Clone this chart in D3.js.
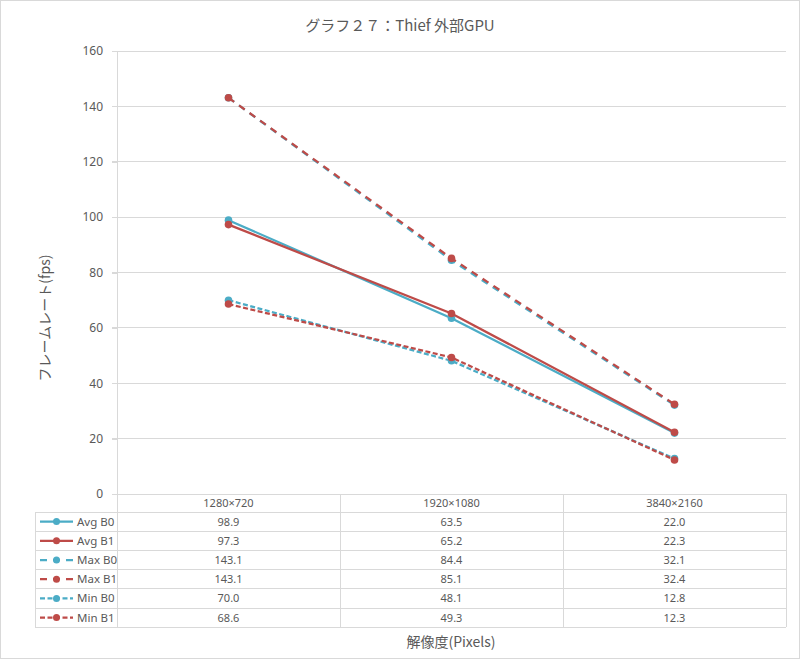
<!DOCTYPE html>
<html><head><meta charset="utf-8">
<script src="https://cdn.jsdelivr.net/npm/d3@7"></script>
<style>
html,body{margin:0;padding:0;background:#fff;}
svg text{font-family:"Noto Sans CJK JP","Noto Sans",sans-serif;fill:#595959;}
svg text.num{font-family:"Noto Sans","Open Sans",sans-serif;}
</style></head><body>
<svg id="c" width="800" height="659"></svg>
<script>
const categories = ["1280×720", "1920×1080", "3840×2160"];
const seriesNames = ["Avg B0", "Avg B1", "Max B0", "Max B1", "Min B0", "Min B1"];
const avgB0 = [98.9, 63.5, 22.0];
const avgB1 = [97.3, 65.2, 22.3];
const maxB0 = [143.1, 84.4, 32.1];
const maxB1 = [143.1, 85.1, 32.4];
const minB0 = [70.0, 48.1, 12.8];
const minB1 = [68.6, 49.3, 12.3];
const yTicks = [0, 20, 40, 60, 80, 100, 120, 140, 160];
const title = "グラフ２７：Thief 外部GPU";
const yTitle = "フレームレート(fps)";
const xTitle = "解像度(Pixels)";

const teal = "#4bacc6", red = "#be4b48";
const series = [
  {name: seriesNames[0], values: avgB0, color: teal, dash: null},
  {name: seriesNames[1], values: avgB1, color: red, dash: null},
  {name: seriesNames[2], values: maxB0, color: teal, dash: "7,6"},
  {name: seriesNames[3], values: maxB1, color: red, dash: "7,6"},
  {name: seriesNames[4], values: minB0, color: teal, dash: "5,2.5"},
  {name: seriesNames[5], values: minB1, color: red, dash: "5,2.5"}
];

const svg = d3.select("#c");
const W = 800, H = 659;
const L = 117, R = 786, T = 51, B = 494;
const rowH = 19.2, headerH = 18;
const legendL = 35;

svg.append("rect").attr("x", 0.5).attr("y", 0.5).attr("width", W - 1).attr("height", H - 1)
  .attr("fill", "#fff").attr("stroke", "#d9d9d9");

const x = d3.scaleBand().domain(categories).range([L, R]).padding(0);
const y = d3.scaleLinear().domain([0, 160]).range([B, T]);

// gridlines
svg.append("g").selectAll("line").data(yTicks.filter(d => d > 0)).join("line")
  .attr("x1", L - 5).attr("x2", R).attr("y1", d => y(d)).attr("y2", d => y(d))
  .attr("stroke", "#d9d9d9").attr("stroke-width", 1).attr("shape-rendering", "crispEdges");

// y axis
const yAxis = d3.axisLeft(y).tickValues(yTicks).tickSize(5).tickPadding(9);
const ga = svg.append("g").attr("transform", `translate(${L},0)`).call(yAxis);
ga.select(".domain").attr("stroke", "#d9d9d9").attr("shape-rendering", "crispEdges");
ga.selectAll(".tick line").attr("stroke", "#d9d9d9").attr("shape-rendering", "crispEdges");
ga.selectAll(".tick text").attr("class", "num").attr("font-size", 12).style("fill", "#595959")
  .attr("font-family", null);

// data table
const tbl = svg.append("g").attr("shape-rendering", "crispEdges");
const tableBottom = B + headerH + rowH * series.length;
tbl.append("line").attr("x1", L).attr("x2", R).attr("y1", B).attr("y2", B).attr("stroke", "#d9d9d9");
for (let i = 0; i <= series.length; i++) {
  const yy = B + headerH + i * rowH;
  tbl.append("line").attr("x1", legendL).attr("x2", R).attr("y1", yy).attr("y2", yy).attr("stroke", "#d9d9d9");
}
tbl.append("line").attr("x1", legendL).attr("x2", legendL).attr("y1", B + headerH).attr("y2", tableBottom).attr("stroke", "#d9d9d9");
[L, ...categories.map(c => x(c) + x.bandwidth())].forEach(xx => {
  tbl.append("line").attr("x1", xx).attr("x2", xx).attr("y1", B).attr("y2", tableBottom).attr("stroke", "#d9d9d9");
});
svg.append("g").selectAll("text").data(categories).join("text").attr("class", "num")
  .attr("x", d => x(d) + x.bandwidth() / 2).attr("y", B + headerH / 2 + 4)
  .attr("text-anchor", "middle").attr("font-size", 11).text(d => d);
series.forEach((s, i) => {
  const yy = B + headerH + i * rowH + rowH / 2 + 4;
  svg.append("g").selectAll("text").data(s.values).join("text").attr("class", "num")
    .attr("x", (d, j) => x(categories[j]) + x.bandwidth() / 2).attr("y", yy)
    .attr("text-anchor", "middle").attr("font-size", 11).text(d => d.toFixed(1));
  const cy = B + headerH + i * rowH + rowH / 2;
  svg.append("line").attr("x1", 40).attr("x2", 73).attr("y1", cy).attr("y2", cy)
    .attr("stroke", s.color).attr("stroke-width", 2.25).attr("stroke-dasharray", s.dash);
  svg.append("circle").attr("cx", 56.5).attr("cy", cy).attr("r", 3.5).attr("fill", s.color);
  svg.append("text").attr("class", "num").attr("x", 77).attr("y", yy).attr("font-size", 11.5).text(s.name);
});

// lines
const line = d3.line().x((d, j) => x(categories[j]) + x.bandwidth() / 2).y(d => y(d));
series.forEach(s => {
  const g = svg.append("g");
  g.append("path").datum(s.values).attr("d", line).attr("fill", "none")
    .attr("stroke", s.color).attr("stroke-width", 2.25).attr("stroke-dasharray", s.dash);
  g.selectAll("circle").data(s.values).join("circle")
    .attr("cx", (d, j) => x(categories[j]) + x.bandwidth() / 2).attr("cy", d => y(d))
    .attr("r", 3.8).attr("fill", s.color);
});

// titles
svg.append("text").attr("x", 400).attr("y", 31).attr("text-anchor", "middle")
  .attr("font-size", 15).text(title);
svg.append("text").attr("transform", "translate(50,318) rotate(-90)").attr("text-anchor", "middle")
  .attr("font-size", 14).text(yTitle);
svg.append("text").attr("x", 451).attr("y", 647).attr("text-anchor", "middle")
  .attr("font-size", 14).text(xTitle);
</script>
</body></html>
